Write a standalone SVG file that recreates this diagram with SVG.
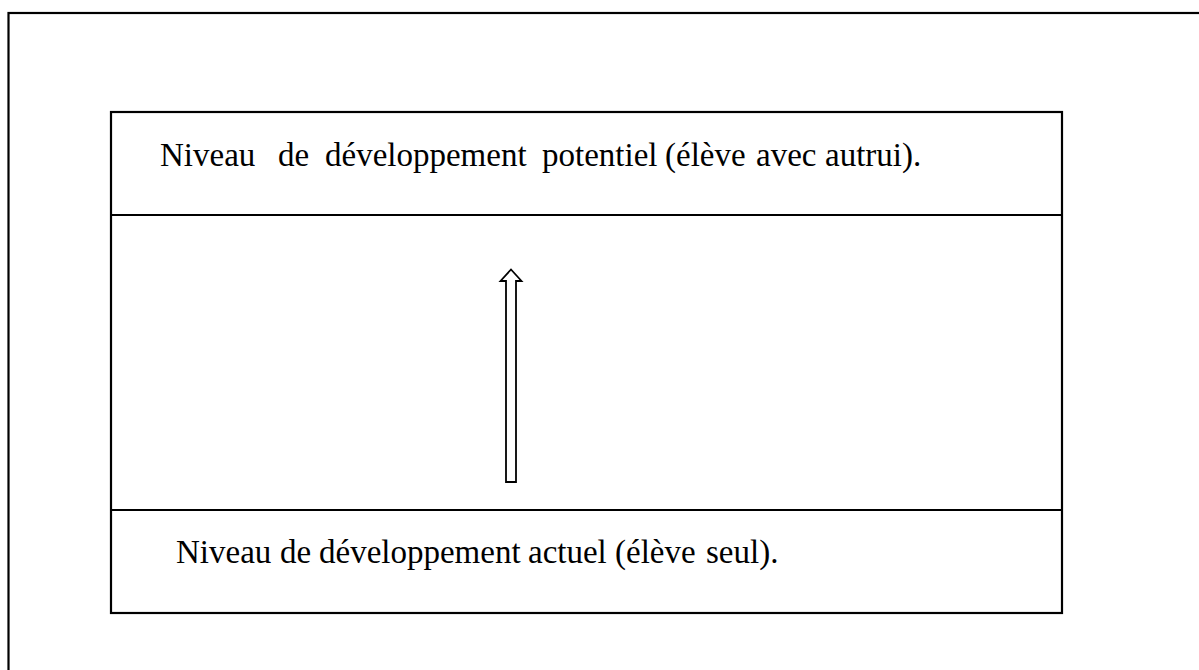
<svg xmlns="http://www.w3.org/2000/svg" width="1199" height="670" viewBox="0 0 1199 670">
  <style>
    .frame { fill: none; stroke: #000; stroke-width: 2.2; }
    .label { font-family: "Liberation Serif", "Times New Roman", serif; font-size: 33px; fill: #000; }
    .arrow { fill: #fff; stroke: #000; stroke-width: 1.8; stroke-linejoin: miter; }
  </style>
  <rect width="1199" height="670" fill="#fff"/>

  <!-- outer page frame, runs off the right and bottom edges -->
  <rect class="frame" x="8.5" y="13" width="1210" height="700"/>

  <!-- zone box -->
  <g id="zone">
    <rect class="frame" x="111" y="112" width="951" height="501"/>
  </g>

  <g id="potentiel">
    <line class="frame" x1="111" y1="215" x2="1062" y2="215"/>
    <text class="label" y="166"><tspan x="160">Niveau</tspan><tspan x="278">de</tspan><tspan x="325">développement</tspan><tspan x="542">potentiel</tspan><tspan x="665">(élève</tspan><tspan x="756">avec</tspan><tspan x="825">autrui).</tspan></text>
  </g>

  <g id="actuel">
    <line class="frame" x1="111" y1="510" x2="1062" y2="510"/>
    <text class="label" y="563"><tspan x="176">Niveau</tspan><tspan x="280">de</tspan><tspan x="319">développement</tspan><tspan x="528">actuel</tspan><tspan x="615">(élève</tspan><tspan x="706">seul).</tspan></text>
  </g>

  <g id="connectors">
    <polygon class="arrow" points="506,482 516,482 516,281 521.5,281 511,269.5 500.5,281 506,281"/>
  </g>
</svg>
